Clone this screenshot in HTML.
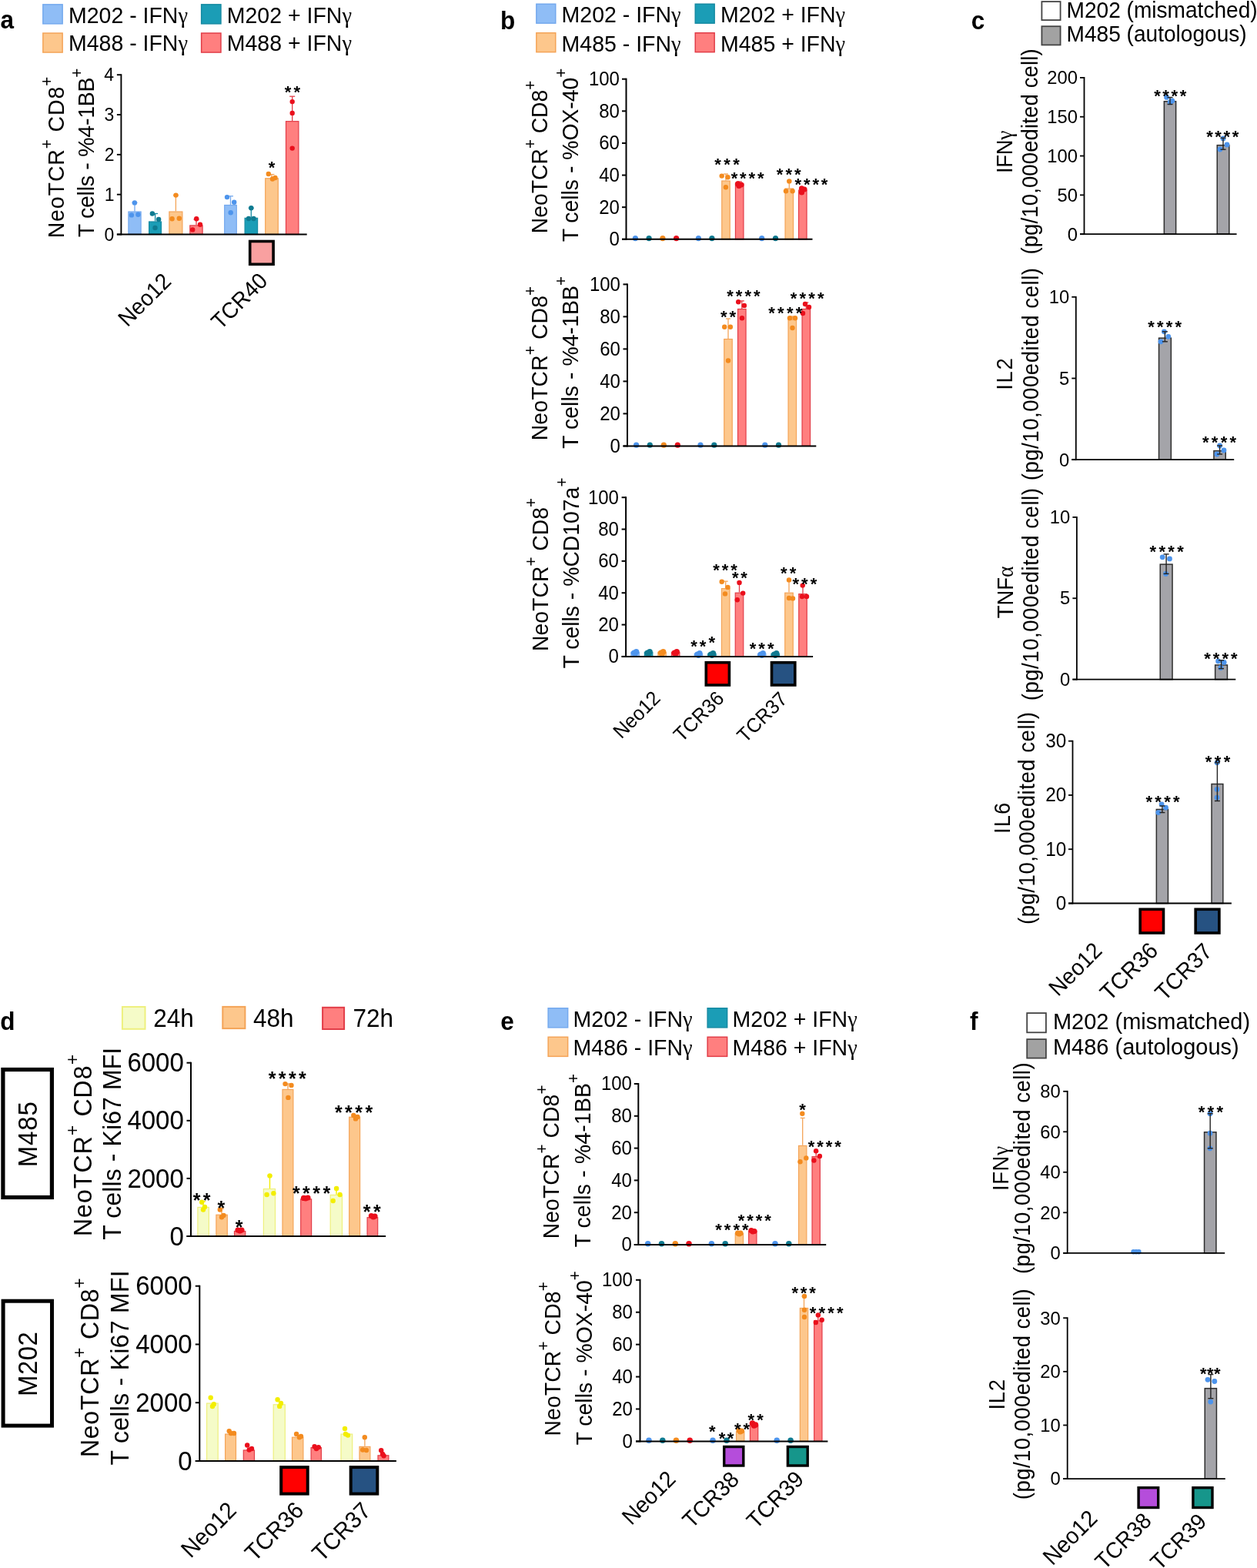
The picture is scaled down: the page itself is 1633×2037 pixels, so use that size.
<!DOCTYPE html>
<html><head><meta charset="utf-8"><style>
html,body{margin:0;padding:0;background:#fff;}
svg{display:block;}
text{font-family:"Liberation Sans",Arial,sans-serif;fill:#000;}
text.b{font-weight:bold;}
text.st{font-weight:bold;}
tspan.g{font-family:"Liberation Serif","DejaVu Serif",serif;}
</style></head><body>
<svg width="1633" height="2037" viewBox="0 0 1633 2037">
<rect width="1633" height="2037" fill="#fff"/>
<text transform="translate(0.58,37) scale(1,1.07)" font-size="31.5" class="b">a</text>
<rect x="55.85" y="5.85" width="25.3" height="25" fill="#8fbdf6" stroke="#74a9ee" stroke-width="1.5"/>
<text transform="translate(88.96,30.2) scale(1,1.04)" font-size="28.5">M202 - IFN<tspan class="g">γ</tspan></text>
<rect x="261.65" y="5.85" width="25.3" height="25" fill="#1b9db6" stroke="#168aa2" stroke-width="1.5"/>
<text transform="translate(294.76,30.2) scale(1,1.04)" font-size="28.5">M202 + IFN<tspan class="g">γ</tspan></text>
<rect x="55.85" y="43.05" width="25.3" height="25" fill="#fdc78c" stroke="#f4a458" stroke-width="1.5"/>
<text transform="translate(88.96,66.3) scale(1,1.04)" font-size="28.5">M488 - IFN<tspan class="g">γ</tspan></text>
<rect x="261.65" y="43.05" width="25.3" height="25" fill="#ff7f7f" stroke="#e23d48" stroke-width="1.5"/>
<text transform="translate(294.76,66.3) scale(1,1.04)" font-size="28.5">M488 + IFN<tspan class="g">γ</tspan></text>
<rect x="166.9" y="275.04" width="16.2" height="29.46" fill="#8fbdf6" stroke="#74a9ee" stroke-width="1.2"/>
<rect x="193.6" y="288" width="15.9" height="16.5" fill="#1b9db6" stroke="#168aa2" stroke-width="1.2"/>
<rect x="219.9" y="275.04" width="17" height="29.46" fill="#fdc78c" stroke="#f4a458" stroke-width="1.2"/>
<rect x="246.8" y="292.92" width="16.3" height="11.58" fill="#ff7f7f" stroke="#e23d48" stroke-width="1.2"/>
<rect x="291.7" y="266.49" width="15.6" height="38.01" fill="#8fbdf6" stroke="#74a9ee" stroke-width="1.2"/>
<rect x="318.1" y="283.33" width="16.5" height="21.17" fill="#1b9db6" stroke="#168aa2" stroke-width="1.2"/>
<rect x="344.7" y="231.77" width="16.6" height="72.73" fill="#fdc78c" stroke="#f4a458" stroke-width="1.2"/>
<rect x="371.5" y="157.66" width="16.4" height="146.84" fill="#ff7f7f" stroke="#e23d48" stroke-width="1.2"/>
<line x1="175" y1="263.4" x2="175" y2="274.44" stroke="#74a9ee" stroke-width="1.3"/>
<line x1="171.5" y1="263.4" x2="178.5" y2="263.4" stroke="#74a9ee" stroke-width="1.3"/>
<line x1="201.6" y1="277.5" x2="201.6" y2="287.4" stroke="#168aa2" stroke-width="1.3"/>
<line x1="198.1" y1="277.5" x2="205.1" y2="277.5" stroke="#168aa2" stroke-width="1.3"/>
<line x1="228.4" y1="253.6" x2="228.4" y2="274.44" stroke="#f4a458" stroke-width="1.3"/>
<line x1="224.9" y1="253.6" x2="231.9" y2="253.6" stroke="#f4a458" stroke-width="1.3"/>
<line x1="255" y1="285" x2="255" y2="292.32" stroke="#e23d48" stroke-width="1.3"/>
<line x1="251.5" y1="285" x2="258.5" y2="285" stroke="#e23d48" stroke-width="1.3"/>
<line x1="299.5" y1="254.8" x2="299.5" y2="265.89" stroke="#74a9ee" stroke-width="1.3"/>
<line x1="296" y1="254.8" x2="303" y2="254.8" stroke="#74a9ee" stroke-width="1.3"/>
<line x1="326.3" y1="270.2" x2="326.3" y2="282.73" stroke="#168aa2" stroke-width="1.3"/>
<line x1="322.8" y1="270.2" x2="329.8" y2="270.2" stroke="#168aa2" stroke-width="1.3"/>
<line x1="353" y1="226.6" x2="353" y2="231.17" stroke="#f4a458" stroke-width="1.3"/>
<line x1="349.5" y1="226.6" x2="356.5" y2="226.6" stroke="#f4a458" stroke-width="1.3"/>
<line x1="379.7" y1="125.2" x2="379.7" y2="157.06" stroke="#e23d48" stroke-width="1.3"/>
<line x1="376.2" y1="125.2" x2="383.2" y2="125.2" stroke="#e23d48" stroke-width="1.3"/>
<circle cx="174.9" cy="263.4" r="3.2" fill="#4d94ec"/>
<circle cx="170.9" cy="279.4" r="3.2" fill="#4d94ec"/>
<circle cx="179.4" cy="278.8" r="3.2" fill="#4d94ec"/>
<circle cx="197.9" cy="277.5" r="3.2" fill="#0f7a90"/>
<circle cx="206.1" cy="284.9" r="3.2" fill="#0f7a90"/>
<circle cx="201.5" cy="296" r="3.2" fill="#0f7a90"/>
<circle cx="228.5" cy="253.6" r="3.2" fill="#f38b1f"/>
<circle cx="223.6" cy="284.3" r="3.2" fill="#f38b1f"/>
<circle cx="232.8" cy="283.7" r="3.2" fill="#f38b1f"/>
<circle cx="255.2" cy="284.3" r="3.2" fill="#ea0f1c"/>
<circle cx="260" cy="291.7" r="3.2" fill="#ea0f1c"/>
<circle cx="250.2" cy="298.4" r="3.2" fill="#ea0f1c"/>
<circle cx="295" cy="256.1" r="3.2" fill="#4d94ec"/>
<circle cx="304.2" cy="262.8" r="3.2" fill="#4d94ec"/>
<circle cx="299.7" cy="276.3" r="3.2" fill="#4d94ec"/>
<circle cx="326.3" cy="270.2" r="3.2" fill="#0f7a90"/>
<circle cx="323" cy="284" r="3.2" fill="#0f7a90"/>
<circle cx="329.5" cy="284" r="3.2" fill="#0f7a90"/>
<circle cx="348.8" cy="226" r="3.2" fill="#f38b1f"/>
<circle cx="354" cy="232.5" r="3.2" fill="#f38b1f"/>
<circle cx="357.5" cy="231" r="3.2" fill="#f38b1f"/>
<circle cx="379.7" cy="132.1" r="3.2" fill="#ea0f1c"/>
<circle cx="379.7" cy="146.9" r="3.2" fill="#ea0f1c"/>
<circle cx="379.7" cy="192.6" r="3.2" fill="#ea0f1c"/>
<text class="st" x="369.84" y="127.24" font-size="22" letter-spacing="3.17">**</text>
<text class="st" x="348.7" y="225.14" font-size="22" letter-spacing="0">*</text>
<line x1="157.4" y1="96.25" x2="157.4" y2="305.45" stroke="#000" stroke-width="1.9"/>
<line x1="151.9" y1="304.5" x2="398.7" y2="304.5" stroke="#000" stroke-width="1.9"/>
<line x1="151.9" y1="304.5" x2="157.4" y2="304.5" stroke="#000" stroke-width="1.9"/>
<text transform="translate(148.3,312.55) scale(1,1.04)" font-size="23" text-anchor="end">0</text>
<line x1="151.9" y1="252.68" x2="157.4" y2="252.68" stroke="#000" stroke-width="1.9"/>
<text transform="translate(148.52,260.6) scale(1,1.04)" font-size="23" text-anchor="end">1</text>
<line x1="151.9" y1="200.85" x2="157.4" y2="200.85" stroke="#000" stroke-width="1.9"/>
<text transform="translate(148.56,208.9) scale(1,1.04)" font-size="23" text-anchor="end">2</text>
<line x1="151.9" y1="149.02" x2="157.4" y2="149.02" stroke="#000" stroke-width="1.9"/>
<text transform="translate(148.41,157.08) scale(1,1.04)" font-size="23" text-anchor="end">3</text>
<line x1="151.9" y1="97.2" x2="157.4" y2="97.2" stroke="#000" stroke-width="1.9"/>
<text transform="translate(148.07,105.13) scale(1,1.04)" font-size="23" text-anchor="end">4</text>
<text transform="translate(82.6,309.34) rotate(-90) scale(1,1.05)" font-size="28.5" textLength="209.45" lengthAdjust="spacing"><tspan dy="0">NeoTCR</tspan><tspan dy="-14.25" font-size="20.52">+</tspan><tspan dy="14.25"> CD8</tspan><tspan dy="-14.25" font-size="20.52">+</tspan></text>
<text transform="translate(122.4,308.24) rotate(-90) scale(1,1.05)" font-size="28.5" textLength="219.45" lengthAdjust="spacing"><tspan dy="0">T cells - %4-1BB</tspan><tspan dy="-14.25" font-size="20.52">+</tspan></text>
<rect x="324.7" y="313.5" width="30.4" height="29.8" fill="#f9a0a0" stroke="#000" stroke-width="3.6"/>
<text transform="translate(224.08,367.11) rotate(-45) scale(1,1.04)" font-size="28.12" text-anchor="end">Neo12</text>
<text transform="translate(349.21,366.8) rotate(-45) scale(1,1.04)" font-size="28.05" text-anchor="end">TCR40</text>
<text transform="translate(649.92,37.8) scale(1,1.07)" font-size="31.5" class="b">b</text>
<rect x="696.85" y="5.25" width="24.9" height="24.9" fill="#8fbdf6" stroke="#74a9ee" stroke-width="1.5"/>
<text transform="translate(729.56,29.4) scale(1,1.04)" font-size="28.5">M202 - IFN<tspan class="g">γ</tspan></text>
<rect x="903.25" y="5.25" width="24.9" height="24.9" fill="#1b9db6" stroke="#168aa2" stroke-width="1.5"/>
<text transform="translate(935.96,29.4) scale(1,1.04)" font-size="28.5">M202 + IFN<tspan class="g">γ</tspan></text>
<rect x="696.85" y="42.75" width="24.9" height="24.9" fill="#fdc78c" stroke="#f4a458" stroke-width="1.5"/>
<text transform="translate(729.56,66.8) scale(1,1.04)" font-size="28.5">M485 - IFN<tspan class="g">γ</tspan></text>
<rect x="903.25" y="42.75" width="24.9" height="24.9" fill="#ff7f7f" stroke="#e23d48" stroke-width="1.5"/>
<text transform="translate(935.96,66.8) scale(1,1.04)" font-size="28.5">M485 + IFN<tspan class="g">γ</tspan></text>
<rect x="937.75" y="235.03" width="10.5" height="75.77" fill="#fdc78c" stroke="#f4a458" stroke-width="1.2"/>
<rect x="955.45" y="238.98" width="10.5" height="71.82" fill="#ff7f7f" stroke="#e23d48" stroke-width="1.2"/>
<rect x="1020.05" y="245.02" width="10.5" height="65.78" fill="#fdc78c" stroke="#f4a458" stroke-width="1.2"/>
<rect x="1037.55" y="247.1" width="10.5" height="63.7" fill="#ff7f7f" stroke="#e23d48" stroke-width="1.2"/>
<line x1="943" y1="226" x2="943" y2="234.43" stroke="#f4a458" stroke-width="1.3"/>
<line x1="940" y1="226" x2="946" y2="226" stroke="#f4a458" stroke-width="1.3"/>
<line x1="960.7" y1="236" x2="960.7" y2="238.38" stroke="#e23d48" stroke-width="1.3"/>
<line x1="957.7" y1="236" x2="963.7" y2="236" stroke="#e23d48" stroke-width="1.3"/>
<line x1="1025.3" y1="234.9" x2="1025.3" y2="244.42" stroke="#f4a458" stroke-width="1.3"/>
<line x1="1022.3" y1="234.9" x2="1028.3" y2="234.9" stroke="#f4a458" stroke-width="1.3"/>
<line x1="1042.8" y1="244" x2="1042.8" y2="246.5" stroke="#e23d48" stroke-width="1.3"/>
<line x1="1039.8" y1="244" x2="1045.8" y2="244" stroke="#e23d48" stroke-width="1.3"/>
<circle cx="937.7" cy="228.6" r="3.2" fill="#f38b1f"/>
<circle cx="945.5" cy="230.3" r="3.2" fill="#f38b1f"/>
<circle cx="942.9" cy="243.2" r="3.2" fill="#f38b1f"/>
<circle cx="958.5" cy="238.9" r="3.6" fill="#ea0f1c"/>
<circle cx="963" cy="240" r="3.6" fill="#ea0f1c"/>
<circle cx="960" cy="241.5" r="3.6" fill="#ea0f1c"/>
<circle cx="1025.3" cy="235.4" r="3.2" fill="#f38b1f"/>
<circle cx="1021" cy="248.3" r="3.2" fill="#f38b1f"/>
<circle cx="1029.6" cy="248.3" r="3.2" fill="#f38b1f"/>
<circle cx="1041.5" cy="244.9" r="3.6" fill="#ea0f1c"/>
<circle cx="1045" cy="246" r="3.6" fill="#ea0f1c"/>
<circle cx="1041.5" cy="250" r="3.6" fill="#ea0f1c"/>
<circle cx="825.4" cy="309.6" r="3.6" fill="#4d94ec"/>
<circle cx="843.1" cy="309.6" r="3.6" fill="#0f7a90"/>
<circle cx="860.9" cy="309.6" r="3.6" fill="#f38b1f"/>
<circle cx="878.6" cy="309.6" r="3.6" fill="#ea0f1c"/>
<circle cx="907.4" cy="309.6" r="3.6" fill="#4d94ec"/>
<circle cx="924.9" cy="309.6" r="3.6" fill="#0f7a90"/>
<circle cx="989.7" cy="309.6" r="3.6" fill="#4d94ec"/>
<circle cx="1007.5" cy="309.6" r="3.6" fill="#0f7a90"/>
<text class="st" x="928.24" y="220.54" font-size="22" letter-spacing="3.5">***</text>
<text class="st" x="949.64" y="239.44" font-size="22" letter-spacing="2.92">****</text>
<text class="st" x="1008.84" y="233.74" font-size="22" letter-spacing="3.05">***</text>
<text class="st" x="1032.54" y="247.14" font-size="22" letter-spacing="2.88">****</text>
<line x1="813.5" y1="101.7" x2="813.5" y2="311.8" stroke="#000" stroke-width="2"/>
<line x1="808" y1="310.8" x2="1055.5" y2="310.8" stroke="#000" stroke-width="2"/>
<line x1="808" y1="310.8" x2="813.5" y2="310.8" stroke="#000" stroke-width="2"/>
<text transform="translate(804.94,319.21) scale(1,1.04)" font-size="24" text-anchor="end">0</text>
<line x1="808" y1="269.18" x2="813.5" y2="269.18" stroke="#000" stroke-width="2"/>
<text transform="translate(804.94,277.59) scale(1,1.04)" font-size="24" text-anchor="end">20</text>
<line x1="808" y1="227.56" x2="813.5" y2="227.56" stroke="#000" stroke-width="2"/>
<text transform="translate(804.94,235.97) scale(1,1.04)" font-size="24" text-anchor="end">40</text>
<line x1="808" y1="185.94" x2="813.5" y2="185.94" stroke="#000" stroke-width="2"/>
<text transform="translate(804.94,194.35) scale(1,1.04)" font-size="24" text-anchor="end">60</text>
<line x1="808" y1="144.32" x2="813.5" y2="144.32" stroke="#000" stroke-width="2"/>
<text transform="translate(804.94,152.73) scale(1,1.04)" font-size="24" text-anchor="end">80</text>
<line x1="808" y1="102.7" x2="813.5" y2="102.7" stroke="#000" stroke-width="2"/>
<text transform="translate(804.94,111.11) scale(1,1.04)" font-size="24" text-anchor="end">100</text>
<text transform="translate(711.3,303.22) rotate(-90) scale(1,1.05)" font-size="28.3" textLength="198.43" lengthAdjust="spacing"><tspan dy="0">NeoTCR</tspan><tspan dy="-14.15" font-size="20.38">+</tspan><tspan dy="14.15"> CD8</tspan><tspan dy="-14.15" font-size="20.38">+</tspan></text>
<text transform="translate(751.2,314.34) rotate(-90) scale(1,1.05)" font-size="28.3" textLength="225.54" lengthAdjust="spacing"><tspan dy="0">T cells - %OX-40</tspan><tspan dy="-14.15" font-size="20.38">+</tspan></text>
<rect x="940.75" y="440.56" width="10.5" height="138.84" fill="#fdc78c" stroke="#f4a458" stroke-width="1.2"/>
<rect x="958.55" y="401.5" width="10.5" height="177.9" fill="#ff7f7f" stroke="#e23d48" stroke-width="1.2"/>
<rect x="1024.05" y="415.36" width="10.5" height="164.04" fill="#fdc78c" stroke="#f4a458" stroke-width="1.2"/>
<rect x="1042.05" y="401.5" width="10.5" height="177.9" fill="#ff7f7f" stroke="#e23d48" stroke-width="1.2"/>
<line x1="946" y1="414" x2="946" y2="439.96" stroke="#f4a458" stroke-width="1.3"/>
<line x1="943" y1="414" x2="949" y2="414" stroke="#f4a458" stroke-width="1.3"/>
<line x1="963.8" y1="390.9" x2="963.8" y2="400.9" stroke="#e23d48" stroke-width="1.3"/>
<line x1="960.8" y1="390.9" x2="966.8" y2="390.9" stroke="#e23d48" stroke-width="1.3"/>
<line x1="1029.3" y1="411" x2="1029.3" y2="414.76" stroke="#f4a458" stroke-width="1.3"/>
<line x1="1026.3" y1="411" x2="1032.3" y2="411" stroke="#f4a458" stroke-width="1.3"/>
<line x1="1047.3" y1="393" x2="1047.3" y2="400.9" stroke="#e23d48" stroke-width="1.3"/>
<line x1="1044.3" y1="393" x2="1050.3" y2="393" stroke="#e23d48" stroke-width="1.3"/>
<circle cx="941.2" cy="424.8" r="3.2" fill="#f38b1f"/>
<circle cx="948.9" cy="424.8" r="3.2" fill="#f38b1f"/>
<circle cx="946" cy="468.5" r="3.2" fill="#f38b1f"/>
<circle cx="959.2" cy="392.2" r="3.2" fill="#ea0f1c"/>
<circle cx="966.9" cy="396.9" r="3.2" fill="#ea0f1c"/>
<circle cx="964" cy="413.2" r="3.2" fill="#ea0f1c"/>
<circle cx="1026" cy="413.2" r="3.2" fill="#f38b1f"/>
<circle cx="1033" cy="413.2" r="3.2" fill="#f38b1f"/>
<circle cx="1029.5" cy="426" r="3.2" fill="#f38b1f"/>
<circle cx="1046" cy="395" r="3.2" fill="#ea0f1c"/>
<circle cx="1051" cy="399" r="3.2" fill="#ea0f1c"/>
<circle cx="1043" cy="407" r="3.2" fill="#ea0f1c"/>
<circle cx="826.6" cy="578.2" r="3.6" fill="#4d94ec"/>
<circle cx="844.3" cy="578.2" r="3.6" fill="#0f7a90"/>
<circle cx="862.3" cy="578.2" r="3.6" fill="#f38b1f"/>
<circle cx="880.3" cy="578.2" r="3.6" fill="#ea0f1c"/>
<circle cx="910" cy="578.2" r="3.6" fill="#4d94ec"/>
<circle cx="927.8" cy="578.2" r="3.6" fill="#0f7a90"/>
<circle cx="993.8" cy="578.2" r="3.6" fill="#4d94ec"/>
<circle cx="1011.5" cy="578.2" r="3.6" fill="#0f7a90"/>
<text class="st" x="935.94" y="418.54" font-size="22" letter-spacing="2.97">**</text>
<text class="st" x="944.24" y="391.94" font-size="22" letter-spacing="3.02">****</text>
<text class="st" x="998.24" y="413.74" font-size="22" letter-spacing="3.28">****</text>
<text class="st" x="1026.84" y="395.34" font-size="22" letter-spacing="3.18">****</text>
<line x1="815" y1="368.4" x2="815" y2="580.4" stroke="#000" stroke-width="2"/>
<line x1="809.5" y1="579.4" x2="1060.3" y2="579.4" stroke="#000" stroke-width="2"/>
<line x1="809.5" y1="579.4" x2="815" y2="579.4" stroke="#000" stroke-width="2"/>
<text transform="translate(805.94,587.81) scale(1,1.04)" font-size="24" text-anchor="end">0</text>
<line x1="809.5" y1="537.4" x2="815" y2="537.4" stroke="#000" stroke-width="2"/>
<text transform="translate(805.94,545.81) scale(1,1.04)" font-size="24" text-anchor="end">20</text>
<line x1="809.5" y1="495.4" x2="815" y2="495.4" stroke="#000" stroke-width="2"/>
<text transform="translate(805.94,503.81) scale(1,1.04)" font-size="24" text-anchor="end">40</text>
<line x1="809.5" y1="453.4" x2="815" y2="453.4" stroke="#000" stroke-width="2"/>
<text transform="translate(805.94,461.81) scale(1,1.04)" font-size="24" text-anchor="end">60</text>
<line x1="809.5" y1="411.4" x2="815" y2="411.4" stroke="#000" stroke-width="2"/>
<text transform="translate(805.94,419.81) scale(1,1.04)" font-size="24" text-anchor="end">80</text>
<line x1="809.5" y1="369.4" x2="815" y2="369.4" stroke="#000" stroke-width="2"/>
<text transform="translate(805.94,377.81) scale(1,1.04)" font-size="24" text-anchor="end">100</text>
<text transform="translate(710.7,572.32) rotate(-90) scale(1,1.05)" font-size="28.3" textLength="200.33" lengthAdjust="spacing"><tspan dy="0">NeoTCR</tspan><tspan dy="-14.15" font-size="20.38">+</tspan><tspan dy="14.15"> CD8</tspan><tspan dy="-14.15" font-size="20.38">+</tspan></text>
<text transform="translate(751.2,582.94) rotate(-90) scale(1,1.05)" font-size="28.3" textLength="223.74" lengthAdjust="spacing"><tspan dy="0">T cells - %4-1BB</tspan><tspan dy="-14.15" font-size="20.38">+</tspan></text>
<rect x="819.85" y="847.3" width="10.5" height="5.6" fill="#8fbdf6" stroke="#74a9ee" stroke-width="1.2"/>
<rect x="837.35" y="847.3" width="10.5" height="5.6" fill="#1b9db6" stroke="#168aa2" stroke-width="1.2"/>
<rect x="854.85" y="847.3" width="10.5" height="5.6" fill="#fdc78c" stroke="#f4a458" stroke-width="1.2"/>
<rect x="872.45" y="847.3" width="10.5" height="5.6" fill="#ff7f7f" stroke="#e23d48" stroke-width="1.2"/>
<rect x="902.15" y="849.37" width="10.5" height="3.53" fill="#8fbdf6" stroke="#74a9ee" stroke-width="1.2"/>
<rect x="919.65" y="849.37" width="10.5" height="3.53" fill="#1b9db6" stroke="#168aa2" stroke-width="1.2"/>
<rect x="937.45" y="764.62" width="10.5" height="88.28" fill="#fdc78c" stroke="#f4a458" stroke-width="1.2"/>
<rect x="955.25" y="770.2" width="10.5" height="82.7" fill="#ff7f7f" stroke="#e23d48" stroke-width="1.2"/>
<rect x="984.45" y="849.37" width="10.5" height="3.53" fill="#8fbdf6" stroke="#74a9ee" stroke-width="1.2"/>
<rect x="1001.95" y="849.37" width="10.5" height="3.53" fill="#1b9db6" stroke="#168aa2" stroke-width="1.2"/>
<rect x="1019.75" y="770.2" width="10.5" height="82.7" fill="#fdc78c" stroke="#f4a458" stroke-width="1.2"/>
<rect x="1037.75" y="771.65" width="10.5" height="81.25" fill="#ff7f7f" stroke="#e23d48" stroke-width="1.2"/>
<circle cx="823.6" cy="848.2" r="3.7" fill="#4d94ec"/>
<circle cx="826.6" cy="846.7" r="3.7" fill="#4d94ec"/>
<circle cx="825.1" cy="849.2" r="3.7" fill="#4d94ec"/>
<circle cx="841.1" cy="848.2" r="3.7" fill="#0f7a90"/>
<circle cx="844.1" cy="846.7" r="3.7" fill="#0f7a90"/>
<circle cx="842.6" cy="849.2" r="3.7" fill="#0f7a90"/>
<circle cx="858.6" cy="848.2" r="3.7" fill="#f38b1f"/>
<circle cx="861.6" cy="846.7" r="3.7" fill="#f38b1f"/>
<circle cx="860.1" cy="849.2" r="3.7" fill="#f38b1f"/>
<circle cx="876.2" cy="848.2" r="3.7" fill="#ea0f1c"/>
<circle cx="879.2" cy="846.7" r="3.7" fill="#ea0f1c"/>
<circle cx="877.7" cy="849.2" r="3.7" fill="#ea0f1c"/>
<circle cx="905.9" cy="850.27" r="3.7" fill="#4d94ec"/>
<circle cx="908.9" cy="848.77" r="3.7" fill="#4d94ec"/>
<circle cx="907.4" cy="851.27" r="3.7" fill="#4d94ec"/>
<circle cx="923.4" cy="850.27" r="3.7" fill="#0f7a90"/>
<circle cx="926.4" cy="848.77" r="3.7" fill="#0f7a90"/>
<circle cx="924.9" cy="851.27" r="3.7" fill="#0f7a90"/>
<circle cx="988.2" cy="850.27" r="3.7" fill="#4d94ec"/>
<circle cx="991.2" cy="848.77" r="3.7" fill="#4d94ec"/>
<circle cx="989.7" cy="851.27" r="3.7" fill="#4d94ec"/>
<circle cx="1005.7" cy="850.27" r="3.7" fill="#0f7a90"/>
<circle cx="1008.7" cy="848.77" r="3.7" fill="#0f7a90"/>
<circle cx="1007.2" cy="851.27" r="3.7" fill="#0f7a90"/>
<line x1="942.7" y1="755.2" x2="942.7" y2="764.02" stroke="#f4a458" stroke-width="1.3"/>
<line x1="939.7" y1="755.2" x2="945.7" y2="755.2" stroke="#f4a458" stroke-width="1.3"/>
<line x1="960.5" y1="756" x2="960.5" y2="769.6" stroke="#e23d48" stroke-width="1.3"/>
<line x1="957.5" y1="756" x2="963.5" y2="756" stroke="#e23d48" stroke-width="1.3"/>
<line x1="1025" y1="753" x2="1025" y2="769.6" stroke="#f4a458" stroke-width="1.3"/>
<line x1="1022" y1="753" x2="1028" y2="753" stroke="#f4a458" stroke-width="1.3"/>
<line x1="1043" y1="760" x2="1043" y2="771.05" stroke="#e23d48" stroke-width="1.3"/>
<line x1="1040" y1="760" x2="1046" y2="760" stroke="#e23d48" stroke-width="1.3"/>
<circle cx="937.7" cy="755.7" r="3.2" fill="#f38b1f"/>
<circle cx="945.5" cy="762.9" r="3.2" fill="#f38b1f"/>
<circle cx="942" cy="771.4" r="3.2" fill="#f38b1f"/>
<circle cx="960.5" cy="756.9" r="3.2" fill="#ea0f1c"/>
<circle cx="965.2" cy="770.6" r="3.2" fill="#ea0f1c"/>
<circle cx="957.8" cy="779.2" r="3.2" fill="#ea0f1c"/>
<circle cx="1025" cy="753.4" r="3.2" fill="#f38b1f"/>
<circle cx="1030" cy="777.4" r="3.2" fill="#f38b1f"/>
<circle cx="1025" cy="777" r="3.2" fill="#f38b1f"/>
<circle cx="1042.7" cy="760.6" r="3.2" fill="#ea0f1c"/>
<circle cx="1042" cy="775" r="3.2" fill="#ea0f1c"/>
<circle cx="1048" cy="775" r="3.2" fill="#ea0f1c"/>
<text class="st" x="897.34" y="847.44" font-size="22" letter-spacing="2.77">**</text>
<text class="st" x="920.6" y="842.34" font-size="22" letter-spacing="0">*</text>
<text class="st" x="926.24" y="748.04" font-size="22" letter-spacing="2.95">***</text>
<text class="st" x="950.94" y="758.24" font-size="22" letter-spacing="2.77">**</text>
<text class="st" x="973.74" y="849.64" font-size="22" letter-spacing="3.05">***</text>
<text class="st" x="1013.94" y="751.94" font-size="22" letter-spacing="3.27">**</text>
<text class="st" x="1029.44" y="765.64" font-size="22" letter-spacing="3.05">***</text>
<line x1="813.1" y1="645.2" x2="813.1" y2="853.9" stroke="#000" stroke-width="2"/>
<line x1="807.6" y1="852.9" x2="1056.1" y2="852.9" stroke="#000" stroke-width="2"/>
<line x1="807.6" y1="852.9" x2="813.1" y2="852.9" stroke="#000" stroke-width="2"/>
<text transform="translate(803.94,861.31) scale(1,1.04)" font-size="24" text-anchor="end">0</text>
<line x1="807.6" y1="811.56" x2="813.1" y2="811.56" stroke="#000" stroke-width="2"/>
<text transform="translate(803.94,819.97) scale(1,1.04)" font-size="24" text-anchor="end">20</text>
<line x1="807.6" y1="770.22" x2="813.1" y2="770.22" stroke="#000" stroke-width="2"/>
<text transform="translate(803.94,778.63) scale(1,1.04)" font-size="24" text-anchor="end">40</text>
<line x1="807.6" y1="728.88" x2="813.1" y2="728.88" stroke="#000" stroke-width="2"/>
<text transform="translate(803.94,737.29) scale(1,1.04)" font-size="24" text-anchor="end">60</text>
<line x1="807.6" y1="687.54" x2="813.1" y2="687.54" stroke="#000" stroke-width="2"/>
<text transform="translate(803.94,695.95) scale(1,1.04)" font-size="24" text-anchor="end">80</text>
<line x1="807.6" y1="646.2" x2="813.1" y2="646.2" stroke="#000" stroke-width="2"/>
<text transform="translate(803.94,654.61) scale(1,1.04)" font-size="24" text-anchor="end">100</text>
<text transform="translate(711.9,846.02) rotate(-90) scale(1,1.05)" font-size="28.3" textLength="199.03" lengthAdjust="spacing"><tspan dy="0">NeoTCR</tspan><tspan dy="-14.15" font-size="20.38">+</tspan><tspan dy="14.15"> CD8</tspan><tspan dy="-14.15" font-size="20.38">+</tspan></text>
<text transform="translate(751.8,868.44) rotate(-90) scale(1,1.05)" font-size="28.3" textLength="247.74" lengthAdjust="spacing"><tspan dy="0">T cells - %CD107a</tspan><tspan dy="-14.15" font-size="20.38">+</tspan></text>
<rect x="917.3" y="860.7" width="30.1" height="29.3" fill="#ff0000" stroke="#000" stroke-width="3.6"/>
<rect x="1002.5" y="860.7" width="30.3" height="29.3" fill="#265282" stroke="#000" stroke-width="3.6"/>
<text transform="translate(859.38,908.78) rotate(-45) scale(1,1.04)" font-size="25.01" text-anchor="end">Neo12</text>
<text transform="translate(942.06,908.82) rotate(-45) scale(1,1.04)" font-size="25.13" text-anchor="end">TCR36</text>
<text transform="translate(1024.44,909.78) rotate(-45) scale(1,1.04)" font-size="25.07" text-anchor="end">TCR37</text>
<text transform="translate(1261.67,37.8) scale(1,1.07)" font-size="31.5" class="b">c</text>
<rect x="1353.4" y="2.1" width="24.2" height="24" fill="#fff" stroke="#444" stroke-width="1.8"/>
<rect x="1353.4" y="34.2" width="24.2" height="24.2" fill="#a2a2a2" stroke="#444" stroke-width="1.8"/>
<text transform="translate(1385.49,22.6) scale(1,1.04)" font-size="28.1">M202 (mismatched)</text>
<text transform="translate(1385.49,53.8) scale(1,1.04)" font-size="28.1">M485 (autologous)</text>
<rect x="1512.35" y="131.74" width="15.3" height="172.46" fill="#a4a4a9" stroke="#2e2e2e" stroke-width="1.5"/>
<rect x="1581.25" y="188.66" width="15.6" height="115.54" fill="#a4a4a9" stroke="#2e2e2e" stroke-width="1.5"/>
<circle cx="1515.6" cy="126.4" r="3.4" fill="#4d94ec"/>
<circle cx="1523" cy="131" r="3.4" fill="#4d94ec"/>
<circle cx="1520" cy="133" r="3.4" fill="#4d94ec"/>
<line x1="1520" y1="126.5" x2="1520" y2="135.5" stroke="#222" stroke-width="1.4"/>
<line x1="1516.5" y1="126.5" x2="1523.5" y2="126.5" stroke="#222" stroke-width="1.4"/>
<line x1="1516.5" y1="135.5" x2="1523.5" y2="135.5" stroke="#222" stroke-width="1.4"/>
<circle cx="1589" cy="179.9" r="3.4" fill="#4d94ec"/>
<circle cx="1585" cy="194" r="3.4" fill="#4d94ec"/>
<circle cx="1594" cy="188" r="3.4" fill="#4d94ec"/>
<line x1="1589" y1="179.2" x2="1589" y2="194.2" stroke="#222" stroke-width="1.4"/>
<line x1="1585.5" y1="179.2" x2="1592.5" y2="179.2" stroke="#222" stroke-width="1.4"/>
<line x1="1585.5" y1="194.2" x2="1592.5" y2="194.2" stroke="#222" stroke-width="1.4"/>
<text class="st" x="1499.14" y="132.24" font-size="22" letter-spacing="2.62">****</text>
<text class="st" x="1567.14" y="185.04" font-size="22" letter-spacing="2.68">****</text>
<line x1="1408.5" y1="100" x2="1408.5" y2="305.1" stroke="#000" stroke-width="1.8"/>
<line x1="1403" y1="304.2" x2="1606.6" y2="304.2" stroke="#000" stroke-width="1.8"/>
<line x1="1403" y1="304.2" x2="1408.5" y2="304.2" stroke="#000" stroke-width="1.8"/>
<text transform="translate(1399.93,312.54) scale(1,1.04)" font-size="23.8" text-anchor="end">0</text>
<line x1="1403" y1="253.38" x2="1408.5" y2="253.38" stroke="#000" stroke-width="1.8"/>
<text transform="translate(1399.93,261.72) scale(1,1.04)" font-size="23.8" text-anchor="end">50</text>
<line x1="1403" y1="202.55" x2="1408.5" y2="202.55" stroke="#000" stroke-width="1.8"/>
<text transform="translate(1399.93,210.89) scale(1,1.04)" font-size="23.8" text-anchor="end">100</text>
<line x1="1403" y1="151.72" x2="1408.5" y2="151.72" stroke="#000" stroke-width="1.8"/>
<text transform="translate(1399.93,160.07) scale(1,1.04)" font-size="23.8" text-anchor="end">150</text>
<line x1="1403" y1="100.9" x2="1408.5" y2="100.9" stroke="#000" stroke-width="1.8"/>
<text transform="translate(1399.93,109.24) scale(1,1.04)" font-size="23.8" text-anchor="end">200</text>
<text transform="translate(1314.7,225.04) rotate(-90) scale(1,1.05)" font-size="27.5" textLength="55.49" lengthAdjust="spacing"><tspan dy="0">IFN<tspan class="g">γ</tspan></tspan></text>
<text transform="translate(1347.7,330.61) rotate(-90) scale(1,1.05)" font-size="27.5" textLength="267.21" lengthAdjust="spacing"><tspan dy="0">(pg/10,000edited cell)</tspan></text>
<rect x="1505.55" y="439.19" width="15.8" height="158.01" fill="#a4a4a9" stroke="#2e2e2e" stroke-width="1.5"/>
<rect x="1576.95" y="585.69" width="15.3" height="11.51" fill="#a4a4a9" stroke="#2e2e2e" stroke-width="1.5"/>
<circle cx="1512.4" cy="430.8" r="3.4" fill="#4d94ec"/>
<circle cx="1517.8" cy="437.3" r="3.4" fill="#4d94ec"/>
<circle cx="1508" cy="443.8" r="3.4" fill="#4d94ec"/>
<line x1="1513.4" y1="430.8" x2="1513.4" y2="443.8" stroke="#222" stroke-width="1.4"/>
<line x1="1509.9" y1="430.8" x2="1516.9" y2="430.8" stroke="#222" stroke-width="1.4"/>
<line x1="1509.9" y1="443.8" x2="1516.9" y2="443.8" stroke="#222" stroke-width="1.4"/>
<circle cx="1584.6" cy="579" r="3.4" fill="#4d94ec"/>
<circle cx="1590" cy="585" r="3.4" fill="#4d94ec"/>
<circle cx="1581" cy="590" r="3.4" fill="#4d94ec"/>
<line x1="1584.6" y1="579" x2="1584.6" y2="590" stroke="#222" stroke-width="1.4"/>
<line x1="1581.1" y1="579" x2="1588.1" y2="579" stroke="#222" stroke-width="1.4"/>
<line x1="1581.1" y1="590" x2="1588.1" y2="590" stroke="#222" stroke-width="1.4"/>
<text class="st" x="1491.34" y="431.84" font-size="22" letter-spacing="3.18">****</text>
<text class="st" x="1562.04" y="581.64" font-size="22" letter-spacing="3.25">****</text>
<line x1="1397.8" y1="384.9" x2="1397.8" y2="598.1" stroke="#000" stroke-width="1.8"/>
<line x1="1392.3" y1="597.2" x2="1603.2" y2="597.2" stroke="#000" stroke-width="1.8"/>
<line x1="1392.3" y1="597.2" x2="1397.8" y2="597.2" stroke="#000" stroke-width="1.8"/>
<text transform="translate(1389.23,605.54) scale(1,1.04)" font-size="23.8" text-anchor="end">0</text>
<line x1="1392.3" y1="491.5" x2="1397.8" y2="491.5" stroke="#000" stroke-width="1.8"/>
<text transform="translate(1389.3,499.71) scale(1,1.04)" font-size="23.8" text-anchor="end">5</text>
<line x1="1392.3" y1="385.8" x2="1397.8" y2="385.8" stroke="#000" stroke-width="1.8"/>
<text transform="translate(1389.23,394.14) scale(1,1.04)" font-size="23.8" text-anchor="end">10</text>
<text transform="translate(1314.6,506.84) rotate(-90) scale(1,1.05)" font-size="27.5" textLength="41.72" lengthAdjust="spacing"><tspan dy="0">IL2</tspan></text>
<text transform="translate(1348.9,624.31) rotate(-90) scale(1,1.05)" font-size="27.5" textLength="276.31" lengthAdjust="spacing"><tspan dy="0">(pg/10,000edited cell)</tspan></text>
<rect x="1507.25" y="733.12" width="15.8" height="149.48" fill="#a4a4a9" stroke="#2e2e2e" stroke-width="1.5"/>
<rect x="1578.65" y="863.97" width="15.8" height="18.63" fill="#a4a4a9" stroke="#2e2e2e" stroke-width="1.5"/>
<circle cx="1510.2" cy="723.8" r="3.4" fill="#4d94ec"/>
<circle cx="1519.5" cy="725.9" r="3.4" fill="#4d94ec"/>
<circle cx="1514.5" cy="745.4" r="3.4" fill="#4d94ec"/>
<line x1="1515.1" y1="719.9" x2="1515.1" y2="745.4" stroke="#222" stroke-width="1.4"/>
<line x1="1511.6" y1="719.9" x2="1518.6" y2="719.9" stroke="#222" stroke-width="1.4"/>
<line x1="1511.6" y1="745.4" x2="1518.6" y2="745.4" stroke="#222" stroke-width="1.4"/>
<circle cx="1582.6" cy="858.9" r="3.4" fill="#4d94ec"/>
<circle cx="1590.2" cy="860.4" r="3.4" fill="#4d94ec"/>
<circle cx="1585.9" cy="867.5" r="3.4" fill="#4d94ec"/>
<line x1="1586.5" y1="857.8" x2="1586.5" y2="868.6" stroke="#222" stroke-width="1.4"/>
<line x1="1583" y1="857.8" x2="1590" y2="857.8" stroke="#222" stroke-width="1.4"/>
<line x1="1583" y1="868.6" x2="1590" y2="868.6" stroke="#222" stroke-width="1.4"/>
<text class="st" x="1493.54" y="723.74" font-size="22" letter-spacing="3.32">****</text>
<text class="st" x="1564.24" y="863.24" font-size="22" letter-spacing="3.02">****</text>
<line x1="1398.9" y1="671" x2="1398.9" y2="883.5" stroke="#000" stroke-width="1.8"/>
<line x1="1393.4" y1="882.6" x2="1605.3" y2="882.6" stroke="#000" stroke-width="1.8"/>
<line x1="1393.4" y1="882.6" x2="1398.9" y2="882.6" stroke="#000" stroke-width="1.8"/>
<text transform="translate(1390.13,890.94) scale(1,1.04)" font-size="23.8" text-anchor="end">0</text>
<line x1="1393.4" y1="777.25" x2="1398.9" y2="777.25" stroke="#000" stroke-width="1.8"/>
<text transform="translate(1390.2,785.46) scale(1,1.04)" font-size="23.8" text-anchor="end">5</text>
<line x1="1393.4" y1="671.9" x2="1398.9" y2="671.9" stroke="#000" stroke-width="1.8"/>
<text transform="translate(1390.13,680.24) scale(1,1.04)" font-size="23.8" text-anchor="end">10</text>
<text transform="translate(1315.7,803.32) rotate(-90) scale(1,1.05)" font-size="27.5" textLength="67.72" lengthAdjust="spacing"><tspan dy="0">TNF<tspan class="g">α</tspan></tspan></text>
<text transform="translate(1349.1,910.31) rotate(-90) scale(1,1.05)" font-size="27.5" textLength="276.21" lengthAdjust="spacing"><tspan dy="0">(pg/10,000edited cell)</tspan></text>
<rect x="1502.35" y="1051.49" width="15.1" height="122.01" fill="#a4a4a9" stroke="#2e2e2e" stroke-width="1.5"/>
<rect x="1574.05" y="1018.54" width="14.8" height="154.96" fill="#a4a4a9" stroke="#2e2e2e" stroke-width="1.5"/>
<circle cx="1509.1" cy="1044.8" r="3.4" fill="#4d94ec"/>
<circle cx="1514.5" cy="1049.2" r="3.4" fill="#4d94ec"/>
<circle cx="1504.8" cy="1055.6" r="3.4" fill="#4d94ec"/>
<line x1="1509.9" y1="1047" x2="1509.9" y2="1055.6" stroke="#222" stroke-width="1.4"/>
<line x1="1506.4" y1="1047" x2="1513.4" y2="1047" stroke="#222" stroke-width="1.4"/>
<line x1="1506.4" y1="1055.6" x2="1513.4" y2="1055.6" stroke="#222" stroke-width="1.4"/>
<circle cx="1581.1" cy="990.8" r="3.4" fill="#4d94ec"/>
<circle cx="1581" cy="1025.4" r="3.4" fill="#4d94ec"/>
<circle cx="1581" cy="1036.2" r="3.4" fill="#4d94ec"/>
<line x1="1581.4" y1="990.8" x2="1581.4" y2="1040.5" stroke="#222" stroke-width="1.4"/>
<line x1="1577.9" y1="990.8" x2="1584.9" y2="990.8" stroke="#222" stroke-width="1.4"/>
<line x1="1577.9" y1="1040.5" x2="1584.9" y2="1040.5" stroke="#222" stroke-width="1.4"/>
<text class="st" x="1488.54" y="1049.14" font-size="22" letter-spacing="3.25">****</text>
<text class="st" x="1565.74" y="996.84" font-size="22" letter-spacing="3.4">***</text>
<line x1="1393.5" y1="961.8" x2="1393.5" y2="1174.4" stroke="#000" stroke-width="1.8"/>
<line x1="1388" y1="1173.5" x2="1599.9" y2="1173.5" stroke="#000" stroke-width="1.8"/>
<line x1="1388" y1="1173.5" x2="1393.5" y2="1173.5" stroke="#000" stroke-width="1.8"/>
<text transform="translate(1385.35,1182.02) scale(1,1.04)" font-size="24.3" text-anchor="end">0</text>
<line x1="1388" y1="1103.23" x2="1393.5" y2="1103.23" stroke="#000" stroke-width="1.8"/>
<text transform="translate(1385.35,1111.76) scale(1,1.04)" font-size="24.3" text-anchor="end">10</text>
<line x1="1388" y1="1032.97" x2="1393.5" y2="1032.97" stroke="#000" stroke-width="1.8"/>
<text transform="translate(1385.35,1041.49) scale(1,1.04)" font-size="24.3" text-anchor="end">20</text>
<line x1="1388" y1="962.7" x2="1393.5" y2="962.7" stroke="#000" stroke-width="1.8"/>
<text transform="translate(1385.35,971.22) scale(1,1.04)" font-size="24.3" text-anchor="end">30</text>
<text transform="translate(1312.4,1083.04) rotate(-90) scale(1,1.05)" font-size="27.5" textLength="40.45" lengthAdjust="spacing"><tspan dy="0">IL6</tspan></text>
<text transform="translate(1344,1201.01) rotate(-90) scale(1,1.05)" font-size="27.5" textLength="275.91" lengthAdjust="spacing"><tspan dy="0">(pg/10,000edited cell)</tspan></text>
<rect x="1481.2" y="1181.3" width="30.3" height="30.7" fill="#ff0000" stroke="#000" stroke-width="3.6"/>
<rect x="1553.2" y="1181.3" width="30.7" height="30.7" fill="#265282" stroke="#000" stroke-width="3.6"/>
<text transform="translate(1433.49,1236.67) rotate(-45) scale(1,1.04)" font-size="28.28" text-anchor="end">Neo12</text>
<text transform="translate(1506.18,1236.9) rotate(-45) scale(1,1.04)" font-size="28.87" text-anchor="end">TCR36</text>
<text transform="translate(1576.53,1237.87) rotate(-45) scale(1,1.04)" font-size="28.46" text-anchor="end">TCR37</text>
<text transform="translate(0.31,1338.1) scale(1,1.07)" font-size="31.5" class="b">d</text>
<rect x="158.9" y="1308" width="29.6" height="28.8" fill="#f5fbc8" stroke="#eef07e" stroke-width="2"/>
<text transform="translate(199.32,1334.1) scale(1,1.04)" font-size="31.5">24h</text>
<rect x="289.3" y="1307.9" width="29.1" height="28.2" fill="#fdc78c" stroke="#f4a458" stroke-width="2"/>
<text transform="translate(328.98,1334.1) scale(1,1.04)" font-size="31.5">48h</text>
<rect x="419.1" y="1308.8" width="28" height="28.2" fill="#ff7f7f" stroke="#e23d48" stroke-width="2"/>
<text transform="translate(458.59,1334.1) scale(1,1.04)" font-size="31.5">72h</text>
<rect x="3.9" y="1389.5" width="63.5" height="166" fill="#fff" stroke="#000" stroke-width="5.2"/>
<text transform="translate(47.8,1516.31) rotate(-90) scale(1,1.05)" font-size="33" textLength="85.09" lengthAdjust="spacing"><tspan dy="0">M485</tspan></text>
<rect x="4.1" y="1690.2" width="63.4" height="161.9" fill="#fff" stroke="#000" stroke-width="5"/>
<text transform="translate(47.8,1813.91) rotate(-90) scale(1,1.05)" font-size="33" textLength="83.77" lengthAdjust="spacing"><tspan dy="0">M202</tspan></text>
<rect x="256.9" y="1568.41" width="14.5" height="37.59" fill="#f5fbc8" stroke="#eef07e" stroke-width="1.2"/>
<rect x="280.9" y="1578.21" width="14.4" height="27.79" fill="#fdc78c" stroke="#f4a458" stroke-width="1.2"/>
<rect x="304.5" y="1599.5" width="14.3" height="6.5" fill="#ff7f7f" stroke="#e23d48" stroke-width="1.2"/>
<rect x="342.4" y="1544.53" width="15.1" height="61.47" fill="#f5fbc8" stroke="#eef07e" stroke-width="1.2"/>
<rect x="367" y="1415.4" width="13.9" height="190.6" fill="#fdc78c" stroke="#f4a458" stroke-width="1.2"/>
<rect x="390.7" y="1557.82" width="13.9" height="48.18" fill="#ff7f7f" stroke="#e23d48" stroke-width="1.2"/>
<rect x="429.2" y="1552.42" width="15.3" height="53.58" fill="#f5fbc8" stroke="#eef07e" stroke-width="1.2"/>
<rect x="453.7" y="1451.26" width="13.9" height="154.74" fill="#fdc78c" stroke="#f4a458" stroke-width="1.2"/>
<rect x="477.1" y="1581.7" width="13.6" height="24.3" fill="#ff7f7f" stroke="#e23d48" stroke-width="1.2"/>
<line x1="264" y1="1560.8" x2="264" y2="1567.81" stroke="#f3ee00" stroke-width="1.4"/>
<line x1="261" y1="1560.8" x2="267" y2="1560.8" stroke="#f3ee00" stroke-width="1.4"/>
<line x1="288" y1="1570" x2="288" y2="1577.61" stroke="#f4a458" stroke-width="1.4"/>
<line x1="285" y1="1570" x2="291" y2="1570" stroke="#f4a458" stroke-width="1.4"/>
<line x1="311.6" y1="1596" x2="311.6" y2="1598.9" stroke="#e23d48" stroke-width="1.4"/>
<line x1="308.6" y1="1596" x2="314.6" y2="1596" stroke="#e23d48" stroke-width="1.4"/>
<line x1="350.5" y1="1527.4" x2="350.5" y2="1543.93" stroke="#f3ee00" stroke-width="1.4"/>
<line x1="347.5" y1="1527.4" x2="353.5" y2="1527.4" stroke="#f3ee00" stroke-width="1.4"/>
<line x1="374" y1="1408" x2="374" y2="1414.8" stroke="#f4a458" stroke-width="1.4"/>
<line x1="371" y1="1408" x2="377" y2="1408" stroke="#f4a458" stroke-width="1.4"/>
<line x1="397.6" y1="1554" x2="397.6" y2="1557.22" stroke="#e23d48" stroke-width="1.4"/>
<line x1="394.6" y1="1554" x2="400.6" y2="1554" stroke="#e23d48" stroke-width="1.4"/>
<line x1="437" y1="1544" x2="437" y2="1551.82" stroke="#f3ee00" stroke-width="1.4"/>
<line x1="434" y1="1544" x2="440" y2="1544" stroke="#f3ee00" stroke-width="1.4"/>
<line x1="460.6" y1="1449" x2="460.6" y2="1450.66" stroke="#f4a458" stroke-width="1.4"/>
<line x1="457.6" y1="1449" x2="463.6" y2="1449" stroke="#f4a458" stroke-width="1.4"/>
<line x1="484" y1="1578" x2="484" y2="1581.1" stroke="#e23d48" stroke-width="1.4"/>
<line x1="481" y1="1578" x2="487" y2="1578" stroke="#e23d48" stroke-width="1.4"/>
<circle cx="262.2" cy="1561.7" r="3.2" fill="#f3ee00"/>
<circle cx="264" cy="1571.5" r="3.2" fill="#f3ee00"/>
<circle cx="266" cy="1568" r="3.2" fill="#f3ee00"/>
<circle cx="285.8" cy="1571.5" r="3.2" fill="#f38b1f"/>
<circle cx="288" cy="1581.2" r="3.2" fill="#f38b1f"/>
<circle cx="290.5" cy="1579" r="3.2" fill="#f38b1f"/>
<circle cx="309" cy="1598" r="3.6" fill="#ea0f1c"/>
<circle cx="311.6" cy="1599" r="3.6" fill="#ea0f1c"/>
<circle cx="314" cy="1598" r="3.6" fill="#ea0f1c"/>
<circle cx="350.5" cy="1527.4" r="3.2" fill="#f3ee00"/>
<circle cx="346.6" cy="1552" r="3.2" fill="#f3ee00"/>
<circle cx="355.4" cy="1550.2" r="3.2" fill="#f3ee00"/>
<circle cx="370.5" cy="1408.1" r="3.2" fill="#f38b1f"/>
<circle cx="378.5" cy="1409.9" r="3.2" fill="#f38b1f"/>
<circle cx="374.4" cy="1425.9" r="3.2" fill="#f38b1f"/>
<circle cx="394.5" cy="1556.4" r="3.6" fill="#ea0f1c"/>
<circle cx="400" cy="1556" r="3.6" fill="#ea0f1c"/>
<circle cx="397" cy="1557" r="3.6" fill="#ea0f1c"/>
<circle cx="437.1" cy="1544" r="3.2" fill="#f3ee00"/>
<circle cx="441.6" cy="1552" r="3.2" fill="#f3ee00"/>
<circle cx="432.7" cy="1560" r="3.2" fill="#f3ee00"/>
<circle cx="459.3" cy="1449" r="3.2" fill="#f38b1f"/>
<circle cx="462" cy="1453.4" r="3.2" fill="#f38b1f"/>
<circle cx="464.5" cy="1451" r="3.2" fill="#f38b1f"/>
<circle cx="482.4" cy="1579.5" r="3.6" fill="#ea0f1c"/>
<circle cx="487" cy="1580" r="3.6" fill="#ea0f1c"/>
<circle cx="485" cy="1581" r="3.6" fill="#ea0f1c"/>
<text class="st" x="250.63" y="1567.9" font-size="25" letter-spacing="3.34">**</text>
<text class="st" x="282.61" y="1578" font-size="25" letter-spacing="0">*</text>
<text class="st" x="305.71" y="1602.9" font-size="25" letter-spacing="0">*</text>
<text class="st" x="348.63" y="1410.2" font-size="25" letter-spacing="3.4">****</text>
<text class="st" x="379.93" y="1559.4" font-size="25" letter-spacing="3.43">****</text>
<text class="st" x="434.93" y="1453.7" font-size="25" letter-spacing="3.46">****</text>
<text class="st" x="471.73" y="1582.8" font-size="25" letter-spacing="3.64">**</text>
<line x1="248" y1="1379.7" x2="248" y2="1607" stroke="#000" stroke-width="2"/>
<line x1="242.5" y1="1606" x2="501.1" y2="1606" stroke="#000" stroke-width="2"/>
<line x1="242.5" y1="1606" x2="248" y2="1606" stroke="#000" stroke-width="2"/>
<text transform="translate(238.79,1617.68) scale(1,1.04)" font-size="33" text-anchor="end">0</text>
<line x1="242.5" y1="1530.9" x2="248" y2="1530.9" stroke="#000" stroke-width="2"/>
<text transform="translate(238.79,1542.58) scale(1,1.04)" font-size="33" text-anchor="end">2000</text>
<line x1="242.5" y1="1455.8" x2="248" y2="1455.8" stroke="#000" stroke-width="2"/>
<text transform="translate(238.79,1467.48) scale(1,1.04)" font-size="33" text-anchor="end">4000</text>
<line x1="242.5" y1="1380.7" x2="248" y2="1380.7" stroke="#000" stroke-width="2"/>
<text transform="translate(238.79,1392.38) scale(1,1.04)" font-size="33" text-anchor="end">6000</text>
<text transform="translate(119.1,1606.12) rotate(-90) scale(1,1.05)" font-size="32" textLength="236.26" lengthAdjust="spacing"><tspan dy="0">NeoTCR</tspan><tspan dy="-16" font-size="23.04">+</tspan><tspan dy="16"> CD8</tspan><tspan dy="-16" font-size="23.04">+</tspan></text>
<text transform="translate(157.1,1610.72) rotate(-90) scale(1,1.05)" font-size="32" textLength="249.97" lengthAdjust="spacing"><tspan dy="0">T cells - Ki67 MFI</tspan></text>
<rect x="268.6" y="1823.06" width="14.6" height="74.94" fill="#f5fbc8" stroke="#eef07e" stroke-width="1.2"/>
<rect x="292.6" y="1863.1" width="13.9" height="34.9" fill="#fdc78c" stroke="#f4a458" stroke-width="1.2"/>
<rect x="316.3" y="1883.98" width="14.2" height="14.02" fill="#ff7f7f" stroke="#e23d48" stroke-width="1.2"/>
<rect x="355.2" y="1824.77" width="15.1" height="73.23" fill="#f5fbc8" stroke="#eef07e" stroke-width="1.2"/>
<rect x="379.5" y="1867.19" width="14.4" height="30.81" fill="#fdc78c" stroke="#f4a458" stroke-width="1.2"/>
<rect x="404.1" y="1880.61" width="13.3" height="17.39" fill="#ff7f7f" stroke="#e23d48" stroke-width="1.2"/>
<rect x="443" y="1863.1" width="14.7" height="34.9" fill="#f5fbc8" stroke="#eef07e" stroke-width="1.2"/>
<rect x="467" y="1879.39" width="13.9" height="18.61" fill="#fdc78c" stroke="#f4a458" stroke-width="1.2"/>
<rect x="491" y="1890.8" width="13.9" height="7.2" fill="#ff7f7f" stroke="#e23d48" stroke-width="1.2"/>
<line x1="473.9" y1="1867.2" x2="473.9" y2="1878.79" stroke="#f4a458" stroke-width="1.3"/>
<line x1="470.9" y1="1867.2" x2="476.9" y2="1867.2" stroke="#f4a458" stroke-width="1.3"/>
<circle cx="273.7" cy="1815.8" r="3.2" fill="#f3ee00"/>
<circle cx="277.8" cy="1824.3" r="3.2" fill="#f3ee00"/>
<circle cx="276" cy="1827" r="3.2" fill="#f3ee00"/>
<circle cx="297.7" cy="1859.1" r="3.2" fill="#f38b1f"/>
<circle cx="300" cy="1862" r="3.2" fill="#f38b1f"/>
<circle cx="304" cy="1862" r="3.2" fill="#f38b1f"/>
<circle cx="321.2" cy="1877.5" r="3.2" fill="#ea0f1c"/>
<circle cx="323.7" cy="1883.5" r="3.2" fill="#ea0f1c"/>
<circle cx="327" cy="1882" r="3.2" fill="#ea0f1c"/>
<circle cx="360.6" cy="1818.3" r="3.2" fill="#f3ee00"/>
<circle cx="363.2" cy="1826.9" r="3.2" fill="#f3ee00"/>
<circle cx="365" cy="1823" r="3.2" fill="#f3ee00"/>
<circle cx="385.1" cy="1862.9" r="3.2" fill="#f38b1f"/>
<circle cx="388.9" cy="1867.2" r="3.2" fill="#f38b1f"/>
<circle cx="391" cy="1866" r="3.2" fill="#f38b1f"/>
<circle cx="408.6" cy="1879.2" r="3.2" fill="#ea0f1c"/>
<circle cx="413.8" cy="1880.1" r="3.2" fill="#ea0f1c"/>
<circle cx="411" cy="1882" r="3.2" fill="#ea0f1c"/>
<circle cx="448" cy="1856" r="3.2" fill="#f3ee00"/>
<circle cx="452" cy="1864.6" r="3.2" fill="#f3ee00"/>
<circle cx="449" cy="1863" r="3.2" fill="#f3ee00"/>
<circle cx="473.8" cy="1867.2" r="3.2" fill="#f38b1f"/>
<circle cx="471.2" cy="1883.5" r="3.2" fill="#f38b1f"/>
<circle cx="476" cy="1884" r="3.2" fill="#f38b1f"/>
<circle cx="495.2" cy="1884.3" r="3.2" fill="#ea0f1c"/>
<circle cx="498.6" cy="1891.2" r="3.2" fill="#ea0f1c"/>
<circle cx="497" cy="1889" r="3.2" fill="#ea0f1c"/>
<line x1="259.3" y1="1669.7" x2="259.3" y2="1899" stroke="#000" stroke-width="2"/>
<line x1="253.8" y1="1898" x2="514.9" y2="1898" stroke="#000" stroke-width="2"/>
<line x1="253.8" y1="1898" x2="259.3" y2="1898" stroke="#000" stroke-width="2"/>
<text transform="translate(249.59,1909.68) scale(1,1.04)" font-size="33" text-anchor="end">0</text>
<line x1="253.8" y1="1822.23" x2="259.3" y2="1822.23" stroke="#000" stroke-width="2"/>
<text transform="translate(249.59,1833.92) scale(1,1.04)" font-size="33" text-anchor="end">2000</text>
<line x1="253.8" y1="1746.47" x2="259.3" y2="1746.47" stroke="#000" stroke-width="2"/>
<text transform="translate(249.59,1758.15) scale(1,1.04)" font-size="33" text-anchor="end">4000</text>
<line x1="253.8" y1="1670.7" x2="259.3" y2="1670.7" stroke="#000" stroke-width="2"/>
<text transform="translate(249.59,1682.38) scale(1,1.04)" font-size="33" text-anchor="end">6000</text>
<text transform="translate(128,1893.12) rotate(-90) scale(1,1.05)" font-size="32" textLength="232.96" lengthAdjust="spacing"><tspan dy="0">NeoTCR</tspan><tspan dy="-16" font-size="23.04">+</tspan><tspan dy="16"> CD8</tspan><tspan dy="-16" font-size="23.04">+</tspan></text>
<text transform="translate(166.9,1903.42) rotate(-90) scale(1,1.05)" font-size="32" textLength="253.17" lengthAdjust="spacing"><tspan dy="0">T cells - Ki67 MFI</tspan></text>
<rect x="365.2" y="1906.1" width="34.5" height="34.5" fill="#ff0000" stroke="#000" stroke-width="4"/>
<rect x="455.7" y="1906.1" width="34.6" height="34.5" fill="#265282" stroke="#000" stroke-width="4"/>
<text transform="translate(308.73,1964.08) rotate(-45) scale(1,1.04)" font-size="29.32" text-anchor="end">Neo12</text>
<text transform="translate(396.33,1964.08) rotate(-45) scale(1,1.04)" font-size="29.33" text-anchor="end">TCR36</text>
<text transform="translate(483.6,1964.45) rotate(-45) scale(1,1.04)" font-size="29.25" text-anchor="end">TCR37</text>
<text transform="translate(650.17,1337.8) scale(1,1.07)" font-size="31.5" class="b">e</text>
<rect x="712.15" y="1309.75" width="25.5" height="25.1" fill="#8fbdf6" stroke="#74a9ee" stroke-width="1.5"/>
<text transform="translate(744.56,1334.4) scale(1,1.04)" font-size="28.5">M202 - IFN<tspan class="g">γ</tspan></text>
<rect x="919.15" y="1309.75" width="25.5" height="25.1" fill="#1b9db6" stroke="#168aa2" stroke-width="1.5"/>
<text transform="translate(951.56,1334.4) scale(1,1.04)" font-size="28.5">M202 + IFN<tspan class="g">γ</tspan></text>
<rect x="712.15" y="1347.25" width="25.5" height="25.1" fill="#fdc78c" stroke="#f4a458" stroke-width="1.5"/>
<text transform="translate(744.56,1371) scale(1,1.04)" font-size="28.5">M486 - IFN<tspan class="g">γ</tspan></text>
<rect x="919.15" y="1347.25" width="25.5" height="25.1" fill="#ff7f7f" stroke="#e23d48" stroke-width="1.5"/>
<text transform="translate(951.56,1371) scale(1,1.04)" font-size="28.5">M486 + IFN<tspan class="g">γ</tspan></text>
<rect x="955.25" y="1602.55" width="10.3" height="14.45" fill="#fdc78c" stroke="#f4a458" stroke-width="1.2"/>
<rect x="972.65" y="1599.63" width="10.3" height="17.37" fill="#ff7f7f" stroke="#e23d48" stroke-width="1.2"/>
<rect x="1037.55" y="1488.44" width="10.3" height="128.56" fill="#fdc78c" stroke="#f4a458" stroke-width="1.2"/>
<rect x="1055.05" y="1502.65" width="10.3" height="114.35" fill="#ff7f7f" stroke="#e23d48" stroke-width="1.2"/>
<line x1="1042.7" y1="1452.4" x2="1042.7" y2="1487.84" stroke="#f4a458" stroke-width="1.3"/>
<line x1="1039.7" y1="1452.4" x2="1045.7" y2="1452.4" stroke="#f4a458" stroke-width="1.3"/>
<line x1="1060.2" y1="1496" x2="1060.2" y2="1502.05" stroke="#e23d48" stroke-width="1.3"/>
<line x1="1057.2" y1="1496" x2="1063.2" y2="1496" stroke="#e23d48" stroke-width="1.3"/>
<circle cx="1042.3" cy="1446.8" r="3.2" fill="#f38b1f"/>
<circle cx="1047.3" cy="1504.4" r="3.2" fill="#f38b1f"/>
<circle cx="1039.5" cy="1509.3" r="3.2" fill="#f38b1f"/>
<circle cx="1060.1" cy="1495.2" r="3.2" fill="#ea0f1c"/>
<circle cx="1064.9" cy="1502" r="3.2" fill="#ea0f1c"/>
<circle cx="1057.4" cy="1507.5" r="3.2" fill="#ea0f1c"/>
<circle cx="958.5" cy="1602" r="3.6" fill="#f38b1f"/>
<circle cx="962" cy="1602" r="3.6" fill="#f38b1f"/>
<circle cx="960.4" cy="1603" r="3.6" fill="#f38b1f"/>
<circle cx="976" cy="1598.5" r="3.6" fill="#ea0f1c"/>
<circle cx="980" cy="1599.5" r="3.6" fill="#ea0f1c"/>
<circle cx="978" cy="1600" r="3.6" fill="#ea0f1c"/>
<circle cx="841.7" cy="1615.8" r="3.8" fill="#4d94ec"/>
<circle cx="859.5" cy="1615.8" r="3.8" fill="#0f7a90"/>
<circle cx="877.3" cy="1615.8" r="3.8" fill="#f38b1f"/>
<circle cx="895" cy="1615.8" r="3.8" fill="#ea0f1c"/>
<circle cx="924.4" cy="1615.8" r="3.8" fill="#4d94ec"/>
<circle cx="942.2" cy="1615.8" r="3.8" fill="#0f7a90"/>
<circle cx="1007" cy="1615.8" r="3.8" fill="#4d94ec"/>
<circle cx="1024.8" cy="1615.8" r="3.8" fill="#0f7a90"/>
<text class="st" x="929.24" y="1605.34" font-size="22" letter-spacing="3.02">****</text>
<text class="st" x="958.64" y="1592.94" font-size="22" letter-spacing="3.02">****</text>
<text class="st" x="1038.3" y="1448.54" font-size="22" letter-spacing="0">*</text>
<text class="st" x="1049.64" y="1497.24" font-size="22" letter-spacing="2.98">****</text>
<line x1="829.3" y1="1407" x2="829.3" y2="1618" stroke="#000" stroke-width="2"/>
<line x1="823.8" y1="1617" x2="1073.2" y2="1617" stroke="#000" stroke-width="2"/>
<line x1="823.8" y1="1617" x2="829.3" y2="1617" stroke="#000" stroke-width="2"/>
<text transform="translate(820.94,1625.41) scale(1,1.04)" font-size="24" text-anchor="end">0</text>
<line x1="823.8" y1="1575.2" x2="829.3" y2="1575.2" stroke="#000" stroke-width="2"/>
<text transform="translate(820.94,1583.61) scale(1,1.04)" font-size="24" text-anchor="end">20</text>
<line x1="823.8" y1="1533.4" x2="829.3" y2="1533.4" stroke="#000" stroke-width="2"/>
<text transform="translate(820.94,1541.81) scale(1,1.04)" font-size="24" text-anchor="end">40</text>
<line x1="823.8" y1="1491.6" x2="829.3" y2="1491.6" stroke="#000" stroke-width="2"/>
<text transform="translate(820.94,1500.01) scale(1,1.04)" font-size="24" text-anchor="end">60</text>
<line x1="823.8" y1="1449.8" x2="829.3" y2="1449.8" stroke="#000" stroke-width="2"/>
<text transform="translate(820.94,1458.21) scale(1,1.04)" font-size="24" text-anchor="end">80</text>
<line x1="823.8" y1="1408" x2="829.3" y2="1408" stroke="#000" stroke-width="2"/>
<text transform="translate(820.94,1416.41) scale(1,1.04)" font-size="24" text-anchor="end">100</text>
<text transform="translate(726.2,1609.32) rotate(-90) scale(1,1.05)" font-size="28.3" textLength="199.63" lengthAdjust="spacing"><tspan dy="0">NeoTCR</tspan><tspan dy="-14.15" font-size="20.38">+</tspan><tspan dy="14.15"> CD8</tspan><tspan dy="-14.15" font-size="20.38">+</tspan></text>
<text transform="translate(766.7,1620.54) rotate(-90) scale(1,1.05)" font-size="28.3" textLength="225.54" lengthAdjust="spacing"><tspan dy="0">T cells - %4-1BB</tspan><tspan dy="-14.15" font-size="20.38">+</tspan></text>
<rect x="956.55" y="1860" width="10.3" height="12.4" fill="#fdc78c" stroke="#f4a458" stroke-width="1.2"/>
<rect x="974.45" y="1852.04" width="10.3" height="20.36" fill="#ff7f7f" stroke="#e23d48" stroke-width="1.2"/>
<rect x="1039.35" y="1699.45" width="10.3" height="172.95" fill="#fdc78c" stroke="#f4a458" stroke-width="1.2"/>
<rect x="1057.65" y="1715.8" width="10.3" height="156.6" fill="#ff7f7f" stroke="#e23d48" stroke-width="1.2"/>
<line x1="1044.5" y1="1684" x2="1044.5" y2="1698.85" stroke="#f4a458" stroke-width="1.3"/>
<line x1="1041.5" y1="1684" x2="1047.5" y2="1684" stroke="#f4a458" stroke-width="1.3"/>
<line x1="1062.8" y1="1708" x2="1062.8" y2="1715.2" stroke="#e23d48" stroke-width="1.3"/>
<line x1="1059.8" y1="1708" x2="1065.8" y2="1708" stroke="#e23d48" stroke-width="1.3"/>
<circle cx="1045" cy="1684" r="3.2" fill="#f38b1f"/>
<circle cx="1045" cy="1701.8" r="3.2" fill="#f38b1f"/>
<circle cx="1045" cy="1711" r="3.2" fill="#f38b1f"/>
<circle cx="1062.9" cy="1708.4" r="3.2" fill="#ea0f1c"/>
<circle cx="1067.7" cy="1714.7" r="3.2" fill="#ea0f1c"/>
<circle cx="1059.8" cy="1718" r="3.2" fill="#ea0f1c"/>
<circle cx="960" cy="1858" r="3.6" fill="#f38b1f"/>
<circle cx="963.5" cy="1859" r="3.6" fill="#f38b1f"/>
<circle cx="961.7" cy="1860" r="3.6" fill="#f38b1f"/>
<circle cx="977.5" cy="1849" r="3.8" fill="#ea0f1c"/>
<circle cx="981.5" cy="1851" r="3.8" fill="#ea0f1c"/>
<circle cx="979.6" cy="1852" r="3.8" fill="#ea0f1c"/>
<circle cx="843" cy="1871.2" r="3.8" fill="#4d94ec"/>
<circle cx="860.8" cy="1871.2" r="3.8" fill="#0f7a90"/>
<circle cx="878.4" cy="1871.2" r="3.8" fill="#f38b1f"/>
<circle cx="896.2" cy="1871.2" r="3.8" fill="#ea0f1c"/>
<circle cx="926" cy="1871.2" r="3.8" fill="#4d94ec"/>
<circle cx="944" cy="1871.2" r="3.8" fill="#0f7a90"/>
<circle cx="1009.2" cy="1871.2" r="3.8" fill="#4d94ec"/>
<circle cx="1027.1" cy="1871.2" r="3.8" fill="#0f7a90"/>
<text class="st" x="921.05" y="1867.24" font-size="22" letter-spacing="0">*</text>
<text class="st" x="933.84" y="1875.54" font-size="22" letter-spacing="2.27">**</text>
<text class="st" x="954.04" y="1863.54" font-size="22" letter-spacing="2.87">**</text>
<text class="st" x="971.54" y="1851.64" font-size="22" letter-spacing="3.17">**</text>
<text class="st" x="1028.44" y="1687.14" font-size="22" letter-spacing="2.85">***</text>
<text class="st" x="1051.84" y="1713.24" font-size="22" letter-spacing="3.18">****</text>
<line x1="831.5" y1="1661.8" x2="831.5" y2="1873.4" stroke="#000" stroke-width="2"/>
<line x1="826" y1="1872.4" x2="1075.4" y2="1872.4" stroke="#000" stroke-width="2"/>
<line x1="826" y1="1872.4" x2="831.5" y2="1872.4" stroke="#000" stroke-width="2"/>
<text transform="translate(821.94,1880.81) scale(1,1.04)" font-size="24" text-anchor="end">0</text>
<line x1="826" y1="1830.48" x2="831.5" y2="1830.48" stroke="#000" stroke-width="2"/>
<text transform="translate(821.94,1838.89) scale(1,1.04)" font-size="24" text-anchor="end">20</text>
<line x1="826" y1="1788.56" x2="831.5" y2="1788.56" stroke="#000" stroke-width="2"/>
<text transform="translate(821.94,1796.97) scale(1,1.04)" font-size="24" text-anchor="end">40</text>
<line x1="826" y1="1746.64" x2="831.5" y2="1746.64" stroke="#000" stroke-width="2"/>
<text transform="translate(821.94,1755.05) scale(1,1.04)" font-size="24" text-anchor="end">60</text>
<line x1="826" y1="1704.72" x2="831.5" y2="1704.72" stroke="#000" stroke-width="2"/>
<text transform="translate(821.94,1713.13) scale(1,1.04)" font-size="24" text-anchor="end">80</text>
<line x1="826" y1="1662.8" x2="831.5" y2="1662.8" stroke="#000" stroke-width="2"/>
<text transform="translate(821.94,1671.21) scale(1,1.04)" font-size="24" text-anchor="end">100</text>
<text transform="translate(728,1865.62) rotate(-90) scale(1,1.05)" font-size="28.3" textLength="200.23" lengthAdjust="spacing"><tspan dy="0">NeoTCR</tspan><tspan dy="-14.15" font-size="20.38">+</tspan><tspan dy="14.15"> CD8</tspan><tspan dy="-14.15" font-size="20.38">+</tspan></text>
<text transform="translate(768.5,1877.44) rotate(-90) scale(1,1.05)" font-size="28.3" textLength="226.14" lengthAdjust="spacing"><tspan dy="0">T cells - %OX-40</tspan><tspan dy="-14.15" font-size="20.38">+</tspan></text>
<rect x="940.7" y="1879.5" width="25.1" height="24.5" fill="#b54ddb" stroke="#000" stroke-width="3.4"/>
<rect x="1023.4" y="1879.5" width="25.8" height="24.5" fill="#16968b" stroke="#000" stroke-width="3.4"/>
<text transform="translate(879.39,1923.23) rotate(-45) scale(1,1.04)" font-size="28.42" text-anchor="end">Neo12</text>
<text transform="translate(961.75,1923.91) rotate(-45) scale(1,1.04)" font-size="28.11" text-anchor="end">TCR38</text>
<text transform="translate(1046.05,1923.63) rotate(-45) scale(1,1.04)" font-size="28.5" text-anchor="end">TCR39</text>
<text transform="translate(1260.06,1337.8) scale(1,1.07)" font-size="31.5" class="b">f</text>
<rect x="1334.2" y="1316.1" width="24.7" height="25.2" fill="#fff" stroke="#444" stroke-width="1.8"/>
<rect x="1334.2" y="1350.1" width="24.7" height="24.5" fill="#a2a2a2" stroke="#444" stroke-width="1.8"/>
<text transform="translate(1367.92,1336.6) scale(1,1.04)" font-size="29">M202 (mismatched)</text>
<text transform="translate(1367.92,1370.1) scale(1,1.04)" font-size="29">M486 (autologous)</text>
<rect x="1564.55" y="1470.79" width="15.4" height="157.01" fill="#a4a4a9" stroke="#2e2e2e" stroke-width="1.5"/>
<circle cx="1572" cy="1446.7" r="3.4" fill="#4d94ec"/>
<circle cx="1572" cy="1472.2" r="3.4" fill="#4d94ec"/>
<circle cx="1572" cy="1491.8" r="3.4" fill="#4d94ec"/>
<line x1="1572.2" y1="1446.7" x2="1572.2" y2="1491.8" stroke="#222" stroke-width="1.4"/>
<line x1="1568.7" y1="1446.7" x2="1575.7" y2="1446.7" stroke="#222" stroke-width="1.4"/>
<line x1="1568.7" y1="1491.8" x2="1575.7" y2="1491.8" stroke="#222" stroke-width="1.4"/>
<circle cx="1472.5" cy="1626.3" r="3.2" fill="#4d94ec"/>
<circle cx="1476" cy="1626.3" r="3.2" fill="#4d94ec"/>
<circle cx="1479.5" cy="1626.3" r="3.2" fill="#4d94ec"/>
<text class="st" x="1556.64" y="1451.84" font-size="22" letter-spacing="3.35">***</text>
<line x1="1386.7" y1="1416.9" x2="1386.7" y2="1628.7" stroke="#000" stroke-width="1.8"/>
<line x1="1381.2" y1="1627.8" x2="1591.2" y2="1627.8" stroke="#000" stroke-width="1.8"/>
<line x1="1381.2" y1="1627.8" x2="1386.7" y2="1627.8" stroke="#000" stroke-width="1.8"/>
<text transform="translate(1377.73,1636.14) scale(1,1.04)" font-size="23.8" text-anchor="end">0</text>
<line x1="1381.2" y1="1575.3" x2="1386.7" y2="1575.3" stroke="#000" stroke-width="1.8"/>
<text transform="translate(1377.73,1583.64) scale(1,1.04)" font-size="23.8" text-anchor="end">20</text>
<line x1="1381.2" y1="1522.8" x2="1386.7" y2="1522.8" stroke="#000" stroke-width="1.8"/>
<text transform="translate(1377.73,1531.14) scale(1,1.04)" font-size="23.8" text-anchor="end">40</text>
<line x1="1381.2" y1="1470.3" x2="1386.7" y2="1470.3" stroke="#000" stroke-width="1.8"/>
<text transform="translate(1377.73,1478.64) scale(1,1.04)" font-size="23.8" text-anchor="end">60</text>
<line x1="1381.2" y1="1417.8" x2="1386.7" y2="1417.8" stroke="#000" stroke-width="1.8"/>
<text transform="translate(1377.73,1426.14) scale(1,1.04)" font-size="23.8" text-anchor="end">80</text>
<text transform="translate(1310,1547.04) rotate(-90) scale(1,1.05)" font-size="27.5" textLength="58.19" lengthAdjust="spacing"><tspan dy="0">IFN<tspan class="g">γ</tspan></tspan></text>
<text transform="translate(1337.5,1655.01) rotate(-90) scale(1,1.05)" font-size="27.5" textLength="274.61" lengthAdjust="spacing"><tspan dy="0">(pg/10,000edited cell)</tspan></text>
<rect x="1565.25" y="1803.68" width="15.2" height="117.42" fill="#a4a4a9" stroke="#2e2e2e" stroke-width="1.5"/>
<circle cx="1569" cy="1792.3" r="3.4" fill="#4d94ec"/>
<circle cx="1577.8" cy="1794.5" r="3.4" fill="#4d94ec"/>
<circle cx="1572.7" cy="1821.1" r="3.4" fill="#4d94ec"/>
<line x1="1572.9" y1="1785.6" x2="1572.9" y2="1816.7" stroke="#222" stroke-width="1.4"/>
<line x1="1569.4" y1="1785.6" x2="1576.4" y2="1785.6" stroke="#222" stroke-width="1.4"/>
<line x1="1569.4" y1="1816.7" x2="1576.4" y2="1816.7" stroke="#222" stroke-width="1.4"/>
<text class="st" x="1558.94" y="1791.84" font-size="22" letter-spacing="0.5">***</text>
<line x1="1386.7" y1="1711.3" x2="1386.7" y2="1922" stroke="#000" stroke-width="1.8"/>
<line x1="1381.2" y1="1921.1" x2="1591.8" y2="1921.1" stroke="#000" stroke-width="1.8"/>
<line x1="1381.2" y1="1921.1" x2="1386.7" y2="1921.1" stroke="#000" stroke-width="1.8"/>
<text transform="translate(1377.73,1929.44) scale(1,1.04)" font-size="23.8" text-anchor="end">0</text>
<line x1="1381.2" y1="1851.47" x2="1386.7" y2="1851.47" stroke="#000" stroke-width="1.8"/>
<text transform="translate(1377.73,1859.81) scale(1,1.04)" font-size="23.8" text-anchor="end">10</text>
<line x1="1381.2" y1="1781.83" x2="1386.7" y2="1781.83" stroke="#000" stroke-width="1.8"/>
<text transform="translate(1377.73,1790.17) scale(1,1.04)" font-size="23.8" text-anchor="end">20</text>
<line x1="1381.2" y1="1712.2" x2="1386.7" y2="1712.2" stroke="#000" stroke-width="1.8"/>
<text transform="translate(1377.73,1720.54) scale(1,1.04)" font-size="23.8" text-anchor="end">30</text>
<text transform="translate(1304.5,1831.54) rotate(-90) scale(1,1.05)" font-size="27.5" textLength="39.62" lengthAdjust="spacing"><tspan dy="0">IL2</tspan></text>
<text transform="translate(1337.7,1948.21) rotate(-90) scale(1,1.05)" font-size="27.5" textLength="273.91" lengthAdjust="spacing"><tspan dy="0">(pg/10,000edited cell)</tspan></text>
<rect x="1479.1" y="1932.7" width="25.6" height="25.8" fill="#b54ddb" stroke="#000" stroke-width="3.4"/>
<rect x="1549.9" y="1932.7" width="25.1" height="25.8" fill="#16968b" stroke="#000" stroke-width="3.4"/>
<text transform="translate(1427.31,1974.51) rotate(-45) scale(1,1.04)" font-size="28.88" text-anchor="end">Neo12</text>
<text transform="translate(1497.54,1977.56) rotate(-45) scale(1,1.04)" font-size="27.99" text-anchor="end">TCR38</text>
<text transform="translate(1568.97,1978.61) rotate(-45) scale(1,1.04)" font-size="27.93" text-anchor="end">TCR39</text>
</svg></body></html>
